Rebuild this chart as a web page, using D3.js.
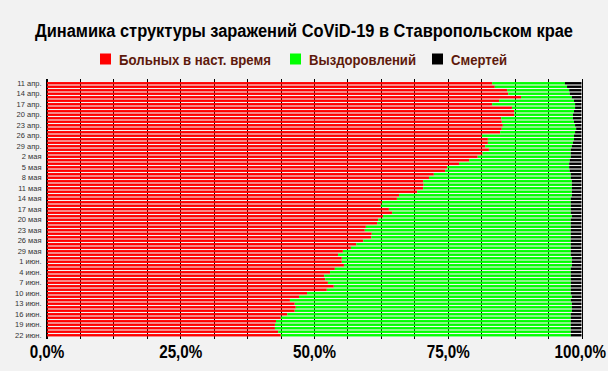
<!DOCTYPE html>
<html><head><meta charset="utf-8">
<script src="https://cdn.jsdelivr.net/npm/d3@7"></script>
<style>
html,body{margin:0;padding:0;background:#f2f2f2;}
svg{display:block;}
</style></head>
<body>
<svg id="chart" width="608" height="371"></svg>
<script>
const categories = [
"11 апр.","12 апр.","13 апр.","14 апр.","15 апр.","16 апр.","17 апр.","18 апр.","19 апр.","20 апр.",
"21 апр.","22 апр.","23 апр.","24 апр.","25 апр.","26 апр.","27 апр.","28 апр.","29 апр.","30 апр.",
"1 мая","2 мая","3 мая","4 мая","5 мая","6 мая","7 мая","8 мая","9 мая","10 мая",
"11 мая","12 мая","13 мая","14 мая","15 мая","16 мая","17 мая","18 мая","19 мая","20 мая",
"21 мая","22 мая","23 мая","24 мая","25 мая","26 мая","27 мая","28 мая","29 мая","30 мая",
"31 мая","1 июн.","2 июн.","3 июн.","4 июн.","5 июн.","6 июн.","7 июн.","8 июн.","9 июн.",
"10 июн.","11 июн.","12 июн.","13 июн.","14 июн.","15 июн.","16 июн.","17 июн.","18 июн.","19 июн.",
"20 июн.","21 июн.","22 июн."];

// share of cases, %
const active = [
83.3,83.8,86.1,86.3,88.7,84.6,83.3,87.0,87.4,87.4,
85.0,85.1,85.3,85.1,84.8,81.4,82.5,82.5,82.0,82.7,
81.5,80.6,79.0,77.1,74.9,74.5,72.4,71.5,70.4,70.5,
70.4,69.3,65.9,65.5,62.7,62.5,64.0,64.6,62.9,62.0,
61.8,59.7,59.5,60.8,60.7,59.2,57.9,56.9,55.4,54.5,
55.2,55.2,55.6,53.9,53.0,51.9,52.1,52.6,53.7,52.4,
48.7,47.2,45.5,46.4,46.6,46.4,45.0,43.8,42.9,42.7,
42.7,43.3,43.8];
const deaths = [
3.1,2.7,2.3,2.2,1.8,1.4,1.2,1.2,1.4,1.6,
1.6,1.4,1.2,1.0,1.2,1.4,1.4,1.6,1.8,2.0,
2.0,2.0,2.2,2.3,2.3,2.2,2.0,2.0,1.8,1.8,
1.8,1.8,1.8,2.0,2.0,2.0,2.0,2.0,1.8,2.0,
2.0,2.0,2.0,2.0,2.0,2.0,2.0,2.0,2.0,2.0,
1.8,1.8,1.8,2.0,2.0,2.0,2.0,2.0,2.0,2.0,
2.0,1.8,2.0,1.8,1.8,1.8,2.0,2.0,2.0,2.0,
2.0,2.0,2.0];
const recovered = active.map((a,i)=>+(100 - a - deaths[i]).toFixed(1));

const seriesNames = ["Больных в наст. время","Выздоровлений","Смертей"];
const seriesColors = ["#ff0000","#00ff00","#000000"];
const xTicks = [0,25,50,75,100];
const title = "Динамика структуры заражений CoViD-19 в Ставропольском крае";

const svg = d3.select("#chart");
const W = 608, H = 371;
svg.append("rect").attr("width",W).attr("height",H).attr("fill","#f2f2f2");

const x = d3.scaleLinear().domain([0,100]).range([46.5,581.5]);
const y = d3.scaleBand().domain(categories).range([81.5,337]).paddingInner(0.32).paddingOuter(0.16);

// gridlines
const grid = d3.range(0,100.01,6.25);
svg.append("g").selectAll("line").data(grid).join("line")
  .attr("x1",d=>Math.round(x(d))+0.5).attr("x2",d=>Math.round(x(d))+0.5)
  .attr("y1",79).attr("y2",339)
  .attr("stroke","#000").attr("stroke-width",1);

const rows = categories.map((c,i)=>({c, a:active[i], r:recovered[i], d:deaths[i]}));
const stack = d3.stack().keys(["a","r","d"])(rows);

svg.append("g").selectAll("g").data(stack).join("g")
  .attr("fill",(d,i)=>seriesColors[i])
  .selectAll("rect").data(d=>d).join("rect")
  .attr("x",d=>x(d[0]))
  .attr("width",d=>Math.max(0,x(d[1])-x(d[0])))
  .attr("y",d=>y(d.data.c))
  .attr("height",y.bandwidth());

// left axis line
svg.append("line").attr("x1",46.5).attr("x2",46.5).attr("y1",79).attr("y2",339)
  .attr("stroke","#000").attr("stroke-width",1);

// y labels
const yAxis = d3.axisLeft(y).tickValues(categories.filter((c,i)=>i%3===0)).tickSize(0).tickPadding(5);
const ga = svg.append("g").attr("transform","translate(46.5,0)").call(yAxis);
ga.select(".domain").remove();
ga.selectAll("text").attr("font-family","Liberation Sans, Arial, sans-serif")
  .attr("font-size",7.5).attr("fill","#333");

// x labels
const xAxis = d3.axisBottom(x).tickValues(xTicks).tickSize(0).tickPadding(0)
  .tickFormat(d=>d3.format(".1f")(d).replace(".",",")+"%");
const gx = svg.append("g").attr("transform","translate(0,346)").call(xAxis);
gx.select(".domain").remove();
gx.selectAll("text").attr("font-family","Liberation Sans, Arial, sans-serif")
  .attr("font-weight","bold").attr("font-size",17.5).attr("fill","#000")
  .attr("transform","scale(0.87,1)");
gx.selectAll(".tick").filter(d=>d===100).select("text").attr("x",-2);

// title
svg.append("text").attr("x",W/2).attr("y",37).attr("text-anchor","middle")
  .attr("font-family","Liberation Sans, Arial, sans-serif").attr("font-weight","bold")
  .attr("font-size",17.5).attr("fill","#000")
  .attr("textLength",538).attr("lengthAdjust","spacingAndGlyphs")
  .text(title);

// legend
const legX = [100,290,432];
const legLen = [152,107,56];
const lg = svg.append("g");
seriesNames.forEach((n,i)=>{
  lg.append("rect").attr("x",legX[i]).attr("y",53.5).attr("width",11).attr("height",11)
    .attr("fill",seriesColors[i]);
  lg.append("text").attr("x",legX[i]+19).attr("y",64.5)
    .attr("font-family","Liberation Sans, Arial, sans-serif").attr("font-weight","bold")
    .attr("font-size",14).attr("fill","#5e1a0c")
    .attr("textLength",legLen[i]).attr("lengthAdjust","spacingAndGlyphs")
    .text(n);
});
</script>
</body></html>
